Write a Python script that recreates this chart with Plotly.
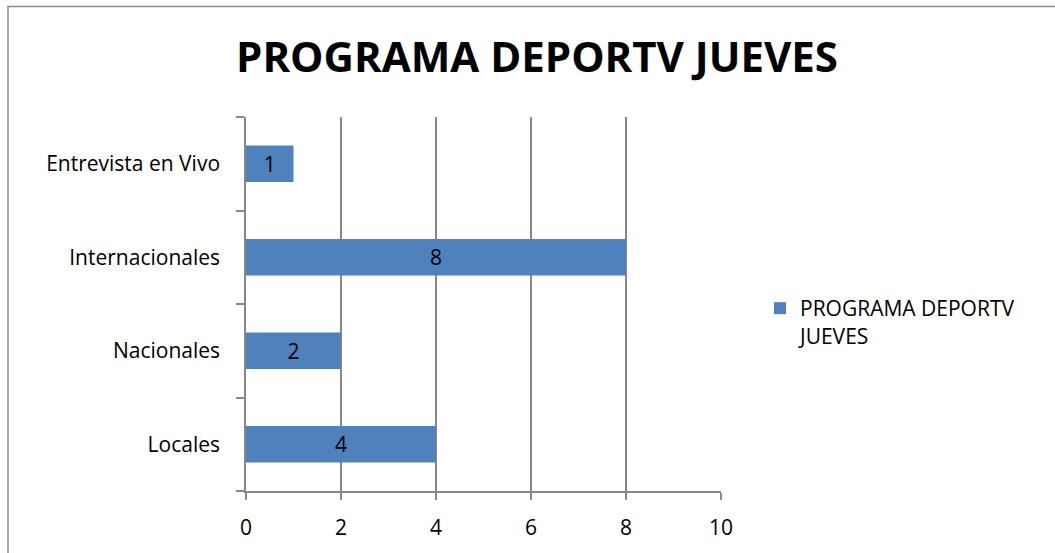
import plotly.graph_objects as go

categories = ["Locales", "Nacionales", "Internacionales", "Entrevista en Vivo"]
values = [4, 2, 8, 1]
series_name = "PROGRAMA DEPORTV JUEVES"
title_text = "PROGRAMA DEPORTV JUEVES"
x_ticks = [0, 2, 4, 6, 8, 10]

W, H = 1055, 553
L, R, T, B = 246, 721, 117, 491
FONT = "Open Sans"
GRID = "#878787"
FS = 21

fig = go.Figure()
fig.add_trace(go.Bar(
    y=categories, x=values, orientation="h",
    name="PROGRAMA DEPORTV<br>JUEVES",
    marker=dict(color="#4F81BD", line=dict(width=0)),
    width=0.39,
    text=[str(v) for v in values], textposition="inside",
    insidetextanchor="middle",
    textfont=dict(color="black", size=FS, family=FONT),
    showlegend=True,
))

def px_x(p):
    return (p - L) / (R - L)

def px_y(p):
    return (B - p) / (B - T)

fig.update_layout(
    width=W, height=H,
    margin=dict(l=L, r=W - R, t=T, b=H - B),
    paper_bgcolor="white", plot_bgcolor="white",
    font=dict(family=FONT, color="black", size=FS),
    uniformtext=dict(minsize=FS, mode="show"),
    title=dict(text="<b>" + title_text + "</b>", x=0.509, xanchor="center",
               y=1 - 57 / H, yanchor="middle",
               font=dict(size=42, family=FONT, color="black")),
    xaxis=dict(range=[0, 10], tickvals=x_ticks, showgrid=True, gridcolor=GRID,
               gridwidth=1.5, showline=True, linecolor=GRID, linewidth=1.5,
               ticks="outside", ticklen=7, tickcolor=GRID, tickwidth=1.5,
               zeroline=False, tickfont=dict(size=FS, family=FONT), mirror=False,
               ticklabelstandoff=10),
    yaxis=dict(showgrid=False, showline=True, linecolor=GRID, linewidth=1.5,
               ticks="outside", ticklen=8, tickcolor=GRID, tickwidth=1.5,
               tickson="boundaries", tickfont=dict(size=FS, family=FONT),
               range=[-0.5, 3.5], ticklabelstandoff=20),
    bargap=0.6,
    legend=dict(x=px_x(760), y=px_y(288), xanchor="left", yanchor="top",
                font=dict(size=FS, family=FONT), bgcolor="rgba(0,0,0,0)",
                itemwidth=30, valign="top"),
    shapes=[dict(type="rect", xref="paper", yref="paper",
                 x0=px_x(8), x1=px_x(1070), y0=px_y(570), y1=px_y(6.5),
                 line=dict(color="#8a8a8a", width=1.5), layer="below")],
)

fig.write_html("out.html")
